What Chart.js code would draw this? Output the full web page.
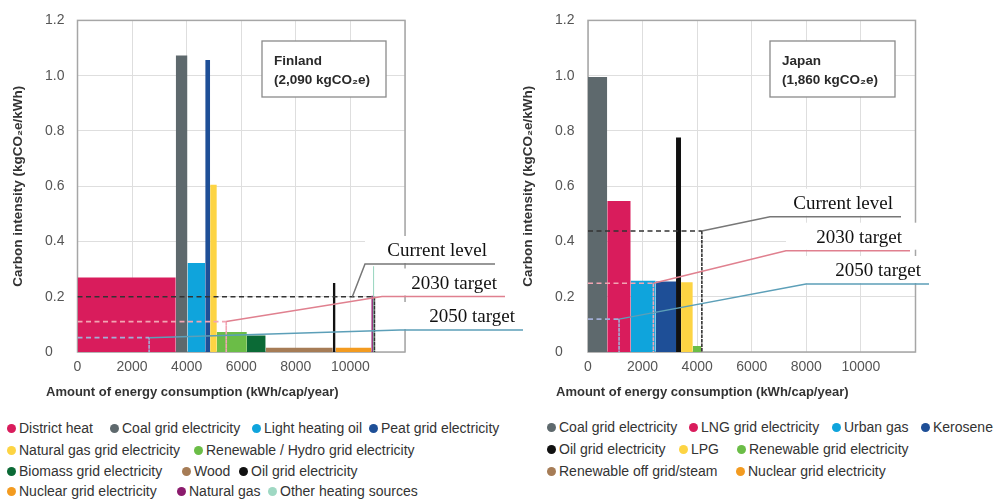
<!DOCTYPE html>
<html><head><meta charset="utf-8">
<script src="https://cdn.jsdelivr.net/npm/chart.js@4/dist/chart.umd.min.js"></script>
<style>
html,body{margin:0;padding:0;background:#fff;width:995px;height:503px;overflow:hidden;position:relative;font-family:"Liberation Sans",Arial,sans-serif;}
canvas{position:absolute;top:0;}
#fin{left:0;}
#jpn{left:510px;}
.lg{position:absolute;font-size:14px;color:#333;white-space:nowrap;line-height:16px;height:16px;}
.lg i{position:absolute;left:0;top:3.5px;width:9px;height:9px;border-radius:50%;}
.lg span{position:absolute;left:12px;top:0;}
</style></head><body>
<canvas id="fin" width="545" height="410"></canvas>
<canvas id="jpn" width="485" height="410"></canvas>
<div id="legends"></div>
<script>
// ---------- DATA ----------
const finlandCategories = ['District heat','Coal grid electricity','Light heating oil','Peat grid electricity','Natural gas grid electricity','Renewable / Hydro grid electricity','Biomass grid electricity','Wood','Oil grid electricity','Nuclear grid electricity','Natural gas','Other heating sources'];
const finlandEnergy = [3600, 430, 650, 180, 245, 1100, 690, 2460, 100, 1310, 60, 50];
const finlandIntensity = [0.27, 1.073, 0.322, 1.057, 0.605, 0.072, 0.06, 0.015, 0.25, 0.015, 0.204, 0.31];

const japanCategories = ['Coal grid electricity','LNG grid electricity','Urban gas','Kerosene','Oil grid electricity','LPG','Renewable grid electricity','Renewable off grid/steam','Nuclear grid electricity'];
const japanEnergy = [705, 860, 915, 745, 185, 430, 305, 20, 20];
const japanIntensity = [0.995, 0.546, 0.258, 0.255, 0.776, 0.252, 0.022, 0.08, 0.03];

const levelNames = ['Current level', '2030 target', '2050 target'];
const finlandLevels = [0.2, 0.11, 0.052];
const finlandLevelEnergy = [10880, 5450, 2624];
const finlandCalloutEnergy = [10070, 5450, 2624];
const japanLevels = [0.438, 0.249, 0.119];
const japanLevelEnergy = [4172, 2396, 1138];
const japanCalloutEnergy = [4172, 2396, 1138];

const finlandTitle = ['Finland', '(2,090 kgCO\u2082e)'];
const japanTitle = ['Japan', '(1,860 kgCO\u2082e)'];

const xTickLabels = [0, 2000, 4000, 6000, 8000, 10000];
const yTickLabels = [0, 0.2, 0.4, 0.6, 0.8, 1.0, 1.2];
const xAxisTitle = 'Amount of energy consumption (kWh/cap/year)';
const yAxisTitle = 'Carbon intensity (kgCO\u2082e/kWh)';

// ---------- STYLE ----------
const colorMap = {
  'District heat':'#d91c5c', 'LNG grid electricity':'#d91c5c',
  'Coal grid electricity':'#5e696d',
  'Light heating oil':'#0fa4dc', 'Urban gas':'#0fa4dc',
  'Peat grid electricity':'#1e4f97', 'Kerosene':'#1e4f97',
  'Natural gas grid electricity':'#fdd443', 'LPG':'#fdd443',
  'Renewable / Hydro grid electricity':'#6bbd47', 'Renewable grid electricity':'#6bbd47',
  'Biomass grid electricity':'#0b6a36',
  'Wood':'#a67c56', 'Renewable off grid/steam':'#a67c56',
  'Oil grid electricity':'#111111',
  'Nuclear grid electricity':'#f39b20',
  'Natural gas':'#8b1b6d',
  'Other heating sources':'#9fd8c3'
};
const levelColors = ['#333333', '#f2a5b3', '#a2aed6'];
const calloutColors = ['#777777', '#e0808f', '#5c9fb8'];

// layout (canvas-local pixels)
const finLayout = { padLeft: 45, yw: 32.5, padRight: 140, titleBox: [262, 41, 124, 56],
  elbows: [[365, 264, 495], [382, 296.5, 505], [400, 330, 523]] };
const jpnLayout = { padLeft: 45, yw: 33, padRight: 79.5, titleBox: [260, 41, 125, 56],
  elbows: [[260, 216.7, 391], [276, 250.7, 400], [296, 284, 419]] };

const FONT = '"Liberation Sans", Arial, sans-serif';

function decorPlugin(cfg) {
  return {
    id: 'decor',
    beforeDatasetsDraw(chart) {
      const a = chart.chartArea, ctx = chart.ctx;
      ctx.save();
      ctx.strokeStyle = '#a6a6a6'; ctx.lineWidth = 1.5;
      ctx.strokeRect(a.left, a.top, a.right - a.left, a.bottom - a.top);
      ctx.restore();
    },
    afterDraw(chart) {
      const ctx = chart.ctx, xs = chart.scales.x, ys = chart.scales.y, a = chart.chartArea;
      ctx.save();
      // axis titles
      ctx.font = 'bold 13px ' + FONT; ctx.fillStyle = '#333';
      ctx.textBaseline = 'middle'; ctx.textAlign = 'left';
      ctx.fillText(xAxisTitle, 46, 392);
      ctx.save();
      ctx.translate(18, (a.top + a.bottom) / 2);
      ctx.rotate(-Math.PI / 2);
      ctx.textAlign = 'center';
      ctx.font = 'bold 13.5px ' + FONT;
      ctx.fillText(yAxisTitle, 0, 0);
      ctx.restore();
      // title box
      ctx.textAlign = 'left';
      const [bx, by, bw, bh] = cfg.layout.titleBox;
      ctx.fillStyle = '#fff'; ctx.fillRect(bx, by, bw, bh);
      ctx.strokeStyle = '#8a8a8a'; ctx.lineWidth = 1.3; ctx.strokeRect(bx, by, bw, bh);
      ctx.fillStyle = '#2a2a2a'; ctx.font = 'bold 13.5px ' + FONT;
      ctx.fillText(cfg.title[0], bx + 12, by + 20);
      ctx.fillText(cfg.title[1], bx + 12, by + 39);
      // callout label boxes
      ctx.font = '19px "Liberation Serif", "Times New Roman", serif';
      ctx.textAlign = 'right'; ctx.textBaseline = 'alphabetic';
      cfg.layout.elbows.forEach((e, i) => {
        const [ex, ey, end] = e;
        ctx.fillStyle = '#fff';
        ctx.fillRect(ex, ey - 28, end + 8 - ex, 27);
        ctx.fillStyle = '#111';
        ctx.fillText(levelNames[i], end - 8, ey - 8);
      });
      // callout lines
      cfg.layout.elbows.forEach((e, i) => {
        const [ex, ey, end] = e;
        const px = xs.getPixelForValue(cfg.calloutX[i]);
        const py = ys.getPixelForValue(cfg.levels[i]);
        ctx.strokeStyle = calloutColors[i]; ctx.lineWidth = 1.5;
        ctx.beginPath(); ctx.moveTo(px, py); ctx.lineTo(ex, ey); ctx.lineTo(end, ey); ctx.stroke();
      });
      ctx.restore();
    }
  };
}

function makeChart(id, cfg) {
  const datasets = [];
  cfg.levels.forEach((lv, i) => {
    const ex = cfg.levelEnergy[i];
    datasets.push({
      type: 'line', label: levelNames[i],
      data: [{x: 0, y: lv}, {x: ex, y: lv}, {x: ex, y: 0}],
      borderColor: levelColors[i], borderWidth: 1.6, pointRadius: 0, fill: false, tension: 0,
      segment: { borderDash: c => c.p0DataIndex === 0 ? [5, 3.5] : [2, 2.5] },
      order: 0
    });
  });
  let acc = 0;
  cfg.energy.forEach((w, i) => {
    const x0 = acc, x1 = acc + w; acc = x1;
    datasets.push({
      type: 'line', label: cfg.cats[i],
      data: [{x: x0, y: cfg.intensity[i]}, {x: x1, y: cfg.intensity[i]}],
      backgroundColor: colorMap[cfg.cats[i]], borderColor: 'rgba(0,0,0,0)',
      borderWidth: 0, pointRadius: 0, fill: 'origin', tension: 0,
      order: 1
    });
  });
  return new Chart(document.getElementById(id), {
    type: 'line',
    data: { datasets },
    options: {
      responsive: false, animation: false, events: [],
      layout: { padding: { left: cfg.layout.padLeft, top: 13, right: cfg.layout.padRight, bottom: 0 } },
      plugins: { legend: { display: false }, tooltip: { enabled: false } },
      scales: {
        x: {
          type: 'linear', min: 0, max: 12000,
          afterBuildTicks: s => { s.ticks = xTickLabels.concat([12000]).map(v => ({value: v})); },
          afterFit: s => { s.height = 58; },
          grid: { color: '#dedede', lineWidth: 1, drawTicks: false },
          border: { display: false },
          ticks: { padding: 7, maxRotation: 0, autoSkip: false, color: '#555',
                   font: { size: 14, family: FONT },
                   callback: v => xTickLabels.includes(v) ? String(v) : '' }
        },
        y: {
          min: 0, max: 1.2,
          afterBuildTicks: s => { s.ticks = yTickLabels.map(v => ({value: v})); },
          afterFit: s => { s.width = cfg.layout.yw; },
          grid: { color: '#dedede', lineWidth: 1, drawTicks: false },
          border: { display: false },
          ticks: { padding: 12, crossAlign: 'far', color: '#555',
                   font: { size: 14, family: FONT },
                   callback: v => v === 0 ? '0' : Number(v).toFixed(1) },
          title: { display: false }
        }
      }
    },
    plugins: [decorPlugin(cfg)]
  });
}

makeChart('fin', { cats: finlandCategories, energy: finlandEnergy, intensity: finlandIntensity,
  levels: finlandLevels, levelEnergy: finlandLevelEnergy, calloutX: finlandCalloutEnergy,
  title: finlandTitle, layout: finLayout });
makeChart('jpn', { cats: japanCategories, energy: japanEnergy, intensity: japanIntensity,
  levels: japanLevels, levelEnergy: japanLevelEnergy, calloutX: japanCalloutEnergy,
  title: japanTitle, layout: jpnLayout });

// ---------- LEGENDS (HTML) ----------
const finlandLegendRows = [[0,1,2,3],[4,5],[6,7,8],[9,10,11]];
const finlandLegendX = [[7,110,252,369],[7,194],[7,182,239],[7,177,268]];
const finlandLegendY = [420, 442, 463, 483];
const japanLegendRows = [[0,1,2,3],[4,5,6],[7,8]];
const japanLegendX = [[547,689,832,921],[547,679,737],[547,736]];
const japanLegendY = [419, 441, 463];

const host = document.getElementById('legends');
function addLegend(cats, rows, xs, ys) {
  rows.forEach((row, r) => row.forEach((ci, k) => {
    const d = document.createElement('div');
    d.className = 'lg';
    d.style.left = xs[r][k] + 'px'; d.style.top = ys[r] + 'px';
    const dot = document.createElement('i'); dot.style.background = colorMap[cats[ci]];
    const t = document.createElement('span'); t.textContent = cats[ci];
    d.appendChild(dot); d.appendChild(t); host.appendChild(d);
  }));
}
addLegend(finlandCategories, finlandLegendRows, finlandLegendX, finlandLegendY);
addLegend(japanCategories, japanLegendRows, japanLegendX, japanLegendY);
</script>
</body></html>
